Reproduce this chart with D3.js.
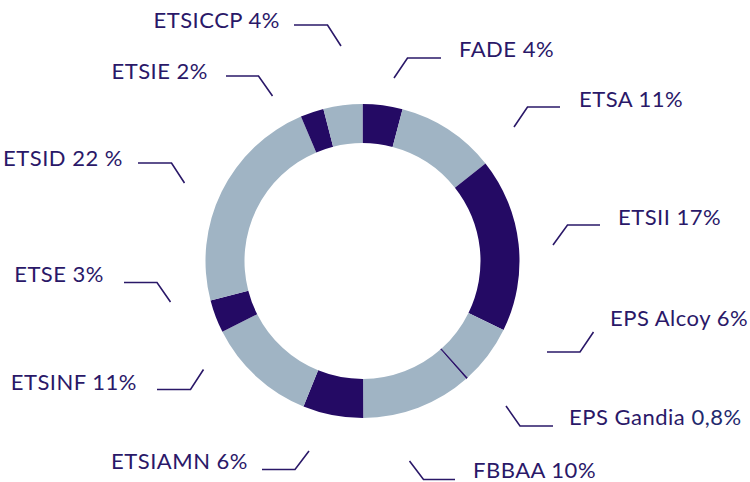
<!DOCTYPE html>
<html>
<head>
<meta charset="utf-8">
<script src="https://cdn.jsdelivr.net/npm/d3@7"></script>
<style>
  body { margin: 0; background: #fff; }
  .label { font-family: Lato, "Open Sans", sans-serif; font-size: 22px; letter-spacing: 0.5px; fill: #2a1868; }
  .leader { fill: none; stroke: #2a1868; stroke-width: 1.6; }
</style>
</head>
<body>
<div id="chart"></div>
<script>
// schools, clockwise from 12 o'clock
var schools = ["FADE", "ETSA", "ETSII", "EPS Alcoy", "EPS Gandia", "FBBAA",
               "ETSIAMN", "ETSINF", "ETSE", "ETSID", "ETSIE", "ETSICCP"];
var shares = [4.1, 10.2, 17.9, 6.1, 0.15, 11.4, 6.2, 11.4, 3.4, 22.6, 2.4, 4.0];
// printed label values
var pctLabels = ["4%", "11%", "17%", "6%", "0,8%", "10%", "6%", "11%", "3%", "22 %", "2%", "4%"];
// dark or light segment
var tones = ["dark", "light", "dark", "light", "dark", "light",
             "dark", "light", "dark", "light", "dark", "light"];

var width = 750, height = 482;
var cx = 362.5, cy = 261, rOuter = 157, rInner = 118;
var colour = {dark: "#240a64", light: "#a0b4c4"};

// hand placed callouts: text anchor + leader polyline (pie end first)
var callouts = {
  "FADE":       {x: 459, y: 57,  anchor: "start", pts: [[394, 78], [407.5, 58], [441, 58]]},
  "ETSA":       {x: 579, y: 107, anchor: "start", pts: [[514, 127], [527.5, 107], [560, 107]]},
  "ETSII":      {x: 618, y: 225, anchor: "start", pts: [[553, 245], [567.5, 225], [600, 225]]},
  "EPS Alcoy":  {x: 610, y: 326, anchor: "start", pts: [[547, 352], [580, 352], [593.5, 332]]},
  "EPS Gandia": {x: 569, y: 425, anchor: "start", pts: [[506, 406], [520, 426], [553, 426]]},
  "FBBAA":      {x: 473, y: 477.5, anchor: "start", pts: [[409.5, 461], [423.5, 479.5], [455, 479.5]]},
  "ETSIAMN":    {x: 248, y: 469, anchor: "end",   pts: [[309, 451], [295, 469.5], [262, 469.5]]},
  "ETSINF":     {x: 137, y: 390, anchor: "end",   pts: [[203.5, 369.5], [190.5, 389.5], [157, 389.5]]},
  "ETSE":       {x: 104, y: 282, anchor: "end",   pts: [[170.5, 302], [157, 282.5], [124, 282.5]]},
  "ETSID":      {x: 123, y: 166, anchor: "end",   pts: [[184.5, 183], [171.5, 163], [138, 163]]},
  "ETSIE":      {x: 208, y: 79,  anchor: "end",   pts: [[272.5, 96], [258.5, 76], [226, 76]]},
  "ETSICCP":    {x: 280, y: 28,  anchor: "end",   pts: [[341, 46], [327.5, 25], [294, 25]]}
};

var data = schools.map(function (s, i) {
    return {name: s, value: shares[i], pct: pctLabels[i], tone: tones[i]};
});

var svg = d3.select("#chart").append("svg")
    .attr("width", width)
    .attr("height", height);

var pie = d3.pie()
    .sort(null)
    .value(function (d) { return d.value; });

var arc = d3.arc()
    .innerRadius(rInner)
    .outerRadius(rOuter);

svg.append("g")
    .attr("transform", "translate(" + cx + "," + cy + ")")
  .selectAll("path")
    .data(pie(data))
  .enter().append("path")
    .attr("d", arc)
    .attr("fill", function (d) { return colour[d.data.tone]; })
    .attr("stroke", function (d) { return d.data.name === "EPS Gandia" ? colour.dark : "none"; })
    .attr("stroke-width", 0.6);

var line = d3.line();

var lab = svg.append("g").selectAll("g")
    .data(data)
  .enter().append("g");

lab.append("path")
    .attr("class", "leader")
    .attr("d", function (d) { return line(callouts[d.name].pts); });

var txt = lab.append("text")
    .attr("class", "label")
    .attr("x", function (d) { return callouts[d.name].x; })
    .attr("y", function (d) { return callouts[d.name].y; })
    .attr("text-anchor", function (d) { return callouts[d.name].anchor; });

txt.append("tspan").text(function (d) { return d.name + " "; });
// the Gandia figure is set in a bluer ink in the original
txt.append("tspan")
    .attr("fill", function (d) { return d.name === "EPS Gandia" ? "#1f2a6e" : null; })
    .text(function (d) { return d.pct; });
</script>
</body>
</html>
